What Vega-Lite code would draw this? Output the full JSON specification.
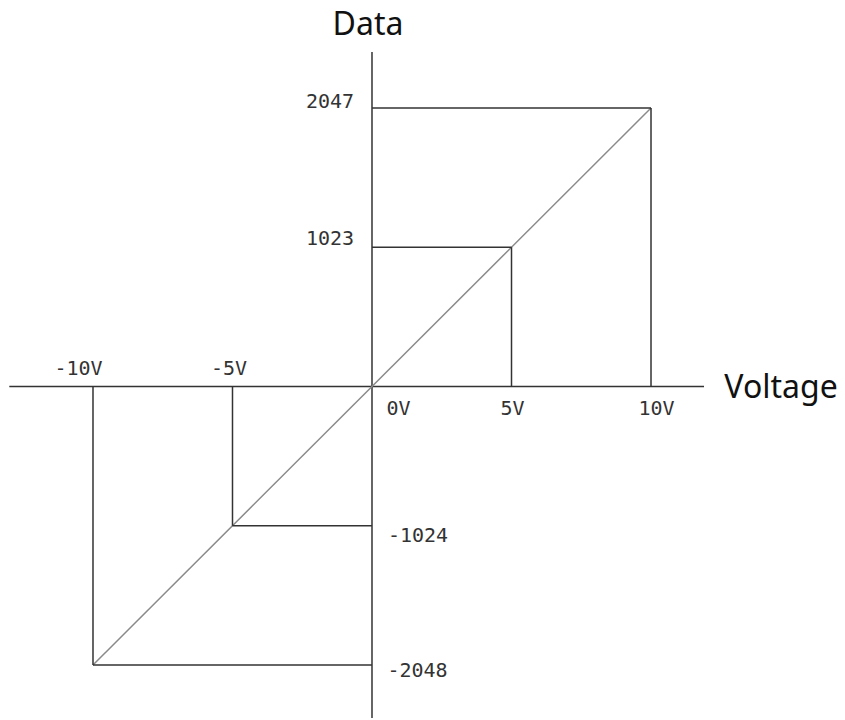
{
  "$schema": "https://vega.github.io/schema/vega-lite/v6.json",
  "width": 845,
  "height": 720,
  "autosize": {"type": "fit", "contains": "padding"},
  "padding": 0,
  "background": "white",
  "config": {"view": {"stroke": null}},
  "datasets": {
    "lines": [
      {"kind": "axis", "x": -13.0, "x2": 11.9, "y": 0, "y2": 0},
      {"kind": "axis", "x": 0, "x2": 0, "y": 2458, "y2": -2438},
      {"kind": "diag", "x": -10, "x2": 10, "y": -2048, "y2": 2047},
      {"kind": "guide", "x": 10, "x2": 10, "y": 0, "y2": 2047},
      {"kind": "guide", "x": 0, "x2": 10, "y": 2047, "y2": 2047},
      {"kind": "guide", "x": 5, "x2": 5, "y": 0, "y2": 1023},
      {"kind": "guide", "x": 0, "x2": 5, "y": 1023, "y2": 1023},
      {"kind": "guide", "x": -5, "x2": -5, "y": 0, "y2": -1024},
      {"kind": "guide", "x": -5, "x2": 0, "y": -1024, "y2": -1024},
      {"kind": "guide", "x": -10, "x2": -10, "y": 0, "y2": -2048},
      {"kind": "guide", "x": -10, "x2": 0, "y": -2048, "y2": -2048}
    ],
    "labels": [
      {"role": "title", "text": "Data", "x": -0.143, "y": 2583},
      {"role": "title", "text": "Voltage", "x": 14.66, "y": -85},
      {"role": "tick", "text": "2047", "x": -1.505, "y": 2047},
      {"role": "tick", "text": "1023", "x": -1.505, "y": 1040},
      {"role": "tick", "text": "-10V", "x": -10.52, "y": 84},
      {"role": "tick", "text": "-5V", "x": -5.125, "y": 84},
      {"role": "tick", "text": "0V", "x": 0.95, "y": -210},
      {"role": "tick", "text": "5V", "x": 5.036, "y": -210},
      {"role": "tick", "text": "10V", "x": 10.197, "y": -210},
      {"role": "tick", "text": "-1024", "x": 1.649, "y": -1144},
      {"role": "tick", "text": "-2048", "x": 1.631, "y": -2136}
    ]
  },
  "layer": [
    {
      "data": {"name": "lines"},
      "mark": {"type": "rule", "strokeWidth": 1.5},
      "encoding": {
        "x": {"field": "x", "type": "quantitative", "scale": {"domain": [-13.333, 16.953], "nice": false, "zero": false}, "axis": null},
        "x2": {"field": "x2"},
        "y": {"field": "y", "type": "quantitative", "scale": {"domain": [-2452.6, 2840.8], "nice": false, "zero": false}, "axis": null},
        "y2": {"field": "y2"},
        "color": {"field": "kind", "type": "nominal", "scale": {"domain": ["axis", "diag", "guide"], "range": ["#333333", "#8a8a8a", "#333333"]}, "legend": null}
      }
    },
    {
      "data": {"name": "labels"},
      "transform": [{"filter": "datum.role === 'title'"}],
      "mark": {"type": "text", "font": "Noto Sans", "fontSize": 32, "align": "center", "baseline": "alphabetic", "color": "#111111"},
      "encoding": {
        "x": {"field": "x", "type": "quantitative"},
        "y": {"field": "y", "type": "quantitative"},
        "text": {"field": "text"}
      }
    },
    {
      "data": {"name": "labels"},
      "transform": [{"filter": "datum.role === 'tick'"}],
      "mark": {"type": "text", "font": "DejaVu Sans Mono", "fontSize": 20, "align": "center", "baseline": "alphabetic", "color": "#333333"},
      "encoding": {
        "x": {"field": "x", "type": "quantitative"},
        "y": {"field": "y", "type": "quantitative"},
        "text": {"field": "text"}
      }
    }
  ]
}
